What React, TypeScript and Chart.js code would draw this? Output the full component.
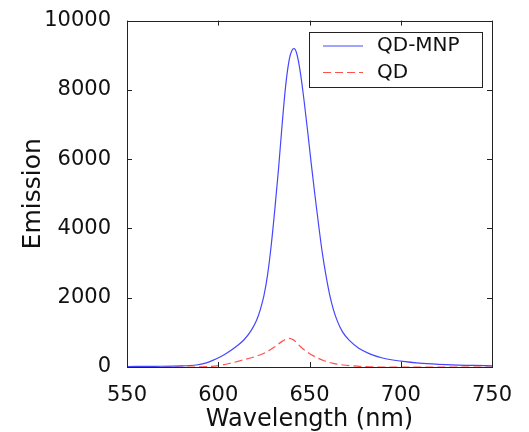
import React, { useEffect, useRef } from "react";
import { Chart, registerables } from "chart.js";

Chart.register(...registerables);

const qdMnpWavelength = [550, 565, 580, 588, 593, 597, 601, 605, 610, 614, 618, 621, 623, 625, 627, 629, 631, 633, 635, 637, 639, 640.5, 641.5, 643, 645, 647, 649, 651, 653, 655, 657, 659, 661, 663, 665, 668, 672, 677, 683, 690, 700, 712, 725, 740, 750];
const qdMnpEmission = [15, 20, 30, 58, 110, 190, 290, 410, 600, 780, 1050, 1350, 1650, 2050, 2650, 3500, 4550, 5700, 7000, 8150, 8900, 9150, 9190, 9050, 8500, 7700, 6800, 5850, 4950, 4100, 3300, 2650, 2100, 1680, 1360, 1020, 760, 540, 380, 260, 170, 107, 70, 45, 35];

const qdWavelength = [550, 585, 595, 600, 606, 612, 620, 626, 631, 635, 638.4, 641, 643, 645, 649, 653, 658, 663, 670, 679.5, 690, 750];
const qdEmission = [0, 0, 15, 40, 100, 180, 297, 420, 585, 740, 827, 790, 700, 590, 420, 297, 180, 105, 50, 12, 0, 0];

const xTicks = [550, 600, 650, 700, 750];
const yTicks = [0, 2000, 4000, 6000, 8000, 10000];

const seriesLabels = ["QD-MNP", "QD"];
const xTitle = "Wavelength (nm)";
const yTitle = "Emission";

const FONT = "'DejaVu Sans', sans-serif";

const boxPlugin = {
  id: "matlabBox",
  afterDatasetsDraw(chart: any) {
    const { ctx, chartArea: a, scales } = chart;
    const x = scales.x;
    const y = scales.y;
    ctx.save();
    ctx.strokeStyle = "#222";
    ctx.lineWidth = 1;
    ctx.strokeRect(Math.round(a.left) + 0.5, Math.round(a.top) + 0.5, Math.round(a.right - a.left), Math.round(a.bottom - a.top));
    const tl = 5;
    ctx.beginPath();
    xTicks.forEach((v) => {
      const px = Math.round(x.getPixelForValue(v)) + 0.5;
      ctx.moveTo(px, a.bottom);
      ctx.lineTo(px, a.bottom - tl);
      ctx.moveTo(px, a.top);
      ctx.lineTo(px, a.top + tl);
    });
    yTicks.forEach((v) => {
      const py = Math.round(y.getPixelForValue(v)) + 0.5;
      ctx.moveTo(a.left, py);
      ctx.lineTo(a.left + tl, py);
      ctx.moveTo(a.right, py);
      ctx.lineTo(a.right - tl, py);
    });
    ctx.stroke();

    // legend
    const lx = 309, ly = 32, lw = 173, lh = 55;
    ctx.fillStyle = "#fff";
    ctx.fillRect(lx, ly, lw, lh);
    ctx.strokeStyle = "#222";
    ctx.strokeRect(lx + 0.5, ly + 0.5, lw, lh);
    chart.data.datasets.forEach((ds: any, i: number) => {
      const cy = ly + 14 + i * 26.5;
      ctx.beginPath();
      ctx.strokeStyle = ds.borderColor;
      ctx.lineWidth = 1.2;
      ctx.setLineDash(ds.borderDash || []);
      ctx.moveTo(323, cy);
      ctx.lineTo(363, cy);
      ctx.stroke();
      ctx.setLineDash([]);
      ctx.fillStyle = "#111";
      ctx.font = `20px ${FONT}`;
      ctx.textBaseline = "middle";
      ctx.textAlign = "left";
      ctx.fillText(ds.label, 377, cy);
    });
    ctx.restore();
  },
};

export default function App() {
  const ref = useRef<HTMLCanvasElement | null>(null);
  useEffect(() => {
    if (!ref.current) return;
    const chart = new Chart(ref.current, {
      type: "line",
      data: {
        datasets: [
          {
            label: seriesLabels[0],
            data: qdMnpWavelength.map((w, i) => ({ x: w, y: qdMnpEmission[i] })),
            borderColor: "rgb(70,70,255)",
            borderWidth: 1.2,
            pointRadius: 0,
            fill: false,
            cubicInterpolationMode: "monotone",
          },
          {
            label: seriesLabels[1],
            data: qdWavelength.map((w, i) => ({ x: w, y: qdEmission[i] })),
            borderColor: "rgb(255,80,80)",
            borderWidth: 1.2,
            borderDash: [8, 4],
            pointRadius: 0,
            fill: false,
            cubicInterpolationMode: "monotone",
          },
        ],
      },
      options: {
        responsive: false,
        animation: false,
        layout: { padding: { left: 0, top: 20, right: 37, bottom: 0 } },
        plugins: { legend: { display: false }, tooltip: { enabled: false } },
        scales: {
          x: {
            type: "linear",
            min: 550,
            max: 750,
            afterBuildTicks: (s: any) => {
              s.ticks = xTicks.map((v) => ({ value: v }));
            },
            afterFit: (s: any) => {
              s.height = 65;
            },
            grid: { display: false },
            border: { display: false },
            ticks: { color: "#111", font: { family: FONT, size: 21 }, padding: 8, maxRotation: 0, callback: (v: any) => String(v) },
            title: { display: true, text: xTitle, color: "#111", font: { family: FONT, size: 24, lineHeight: 1 }, padding: 0 },
          },
          y: {
            type: "linear",
            min: 0,
            max: 10000,
            afterBuildTicks: (s: any) => {
              s.ticks = yTicks.map((v) => ({ value: v }));
            },
            afterFit: (s: any) => {
              s.width = 127;
            },
            grid: { display: false },
            border: { display: false },
            ticks: { color: "#111", font: { family: FONT, size: 21 }, padding: 8, callback: (v: any) => String(v) },
            title: { display: true, text: yTitle, color: "#111", font: { family: FONT, size: 25, lineHeight: 1 }, padding: { top: 21, bottom: 0 } },
          },
        },
      },
      plugins: [boxPlugin],
    });
    return () => chart.destroy();
  }, []);
  return (
    <div style={{ position: "absolute", left: 0, top: 0, width: 529, height: 432, background: "#fff" }}>
      <canvas ref={ref} width={529} height={432} />
    </div>
  );
}
